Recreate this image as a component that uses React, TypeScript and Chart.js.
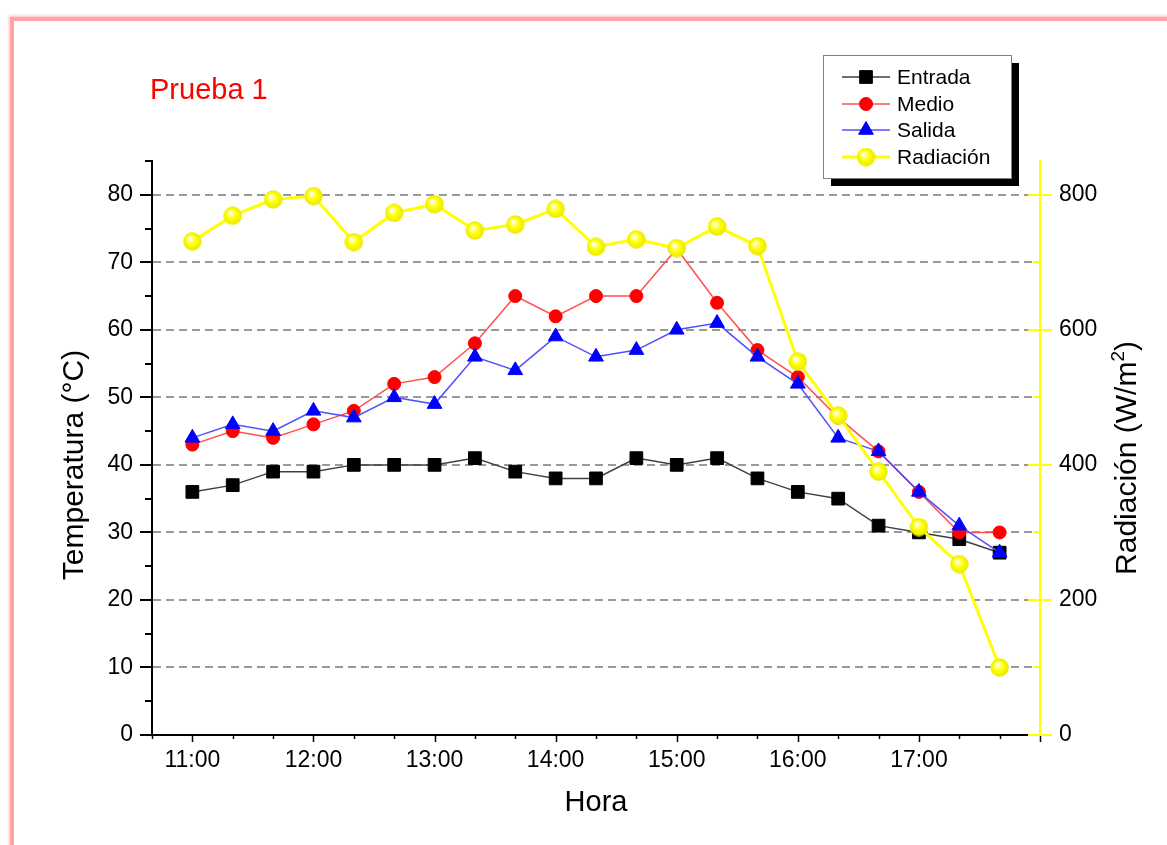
import { useEffect, useRef } from 'react';
import { Chart, registerables } from 'chart.js';

Chart.register(...registerables);

// ---------- data ----------
const horas = ['11:00', '11:20', '11:40', '12:00', '12:20', '12:40', '13:00', '13:20', '13:40', '14:00', '14:20', '14:40', '15:00', '15:20', '15:40', '16:00', '16:20', '16:40', '17:00', '17:20', '17:40'];
const entrada = [36, 37, 39, 39, 40, 40, 40, 41, 39, 38, 38, 41, 40, 41, 38, 36, 35, 31, 30, 29, 27];
const medio = [43, 45, 44, 46, 48, 52, 53, 58, 65, 62, 65, 65, 72, 64, 57, 53, 47, 42, 36, 30, 30];
const salida = [44, 46, 45, 48, 47, 50, 49, 56, 54, 59, 56, 57, 60, 61, 56, 52, 44, 42, 36, 31, 27];
const radiacion = [731, 769, 793, 798, 730, 773, 786, 747, 756, 779, 723, 734, 721, 753, 724, 553, 473, 390, 308, 253, 100];

const horaEtiquetas = ['11:00', '12:00', '13:00', '14:00', '15:00', '16:00', '17:00'];
const tempTicks = [0, 10, 20, 30, 40, 50, 60, 70, 80];
const radTicks = [0, 200, 400, 600, 800];

const X_MIN = '10:40';
const X_MAX = '18:00';
const TEMP_MAX = 85;
const RAD_MAX = 850;

const FONT = '"Liberation Sans", Arial, Helvetica, sans-serif';

const toMin = (s: string) => {
  const [h, m] = s.split(':').map(Number);
  return h * 60 + m;
};
const fmtMin = (v: number) => {
  const h = Math.floor(v / 60);
  const m = v % 60;
  return `${h}:${m < 10 ? '0' + m : m}`;
};

function seg(ctx: CanvasRenderingContext2D, x1: number, y1: number, x2: number, y2: number) {
  ctx.beginPath();
  ctx.moveTo(x1, y1);
  ctx.lineTo(x2, y2);
  ctx.stroke();
}

function drawMarker(ctx: CanvasRenderingContext2D, ds: any, x: number, y: number) {
  const style = ds.pointStyle;
  ctx.save();
  if (typeof style === 'object') {
    ctx.drawImage(style, x - style.width / 2, y - style.height / 2);
    ctx.restore();
    return;
  }
  ctx.fillStyle = ds.pointBackgroundColor;
  ctx.strokeStyle = ds.pointBorderColor;
  ctx.lineWidth = ds.pointBorderWidth;
  const r = ds.pointRadius;
  ctx.beginPath();
  if (style === 'rect') {
    const s = Math.SQRT1_2 * r;
    ctx.rect(x - s, y - s, 2 * s, 2 * s);
  } else if (style === 'triangle') {
    let a = 0;
    ctx.moveTo(x + Math.sin(a) * r, y - Math.cos(a) * r);
    a += (2 * Math.PI) / 3;
    ctx.lineTo(x + Math.sin(a) * r, y - Math.cos(a) * r);
    a += (2 * Math.PI) / 3;
    ctx.lineTo(x + Math.sin(a) * r, y - Math.cos(a) * r);
    ctx.closePath();
  } else {
    ctx.arc(x, y, r, 0, Math.PI * 2);
  }
  ctx.fill();
  ctx.stroke();
  ctx.restore();
}

const decorPlugin = {
  id: 'decor',
  afterDraw(chart: any) {
    const ctx: CanvasRenderingContext2D = chart.ctx;
    const xs = chart.scales.x;
    const ys = chart.scales.y;
    const rs = chart.scales.y1;
    const left = chart.chartArea.left;
    const right = chart.chartArea.right;
    const bottom = chart.chartArea.bottom;
    ctx.save();

    // left axis tick marks (major every 10, minor every 5)
    ctx.strokeStyle = '#000';
    ctx.lineWidth = 2;
    for (let v = 0; v <= TEMP_MAX; v += 5) {
      const p = Math.round(ys.getPixelForValue(v));
      const len = v % 10 === 0 ? 12 : 7;
      seg(ctx, left - len, p, left, p);
    }
    // bottom axis tick marks (major hours, minor each 20 min)
    ctx.lineWidth = 1.5;
    for (let v = toMin(X_MIN); v <= toMin(X_MAX); v += 20) {
      const p = Math.round(xs.getPixelForValue(v)) + 0.5;
      const len = v % 60 === 0 ? 7 : 4;
      seg(ctx, p, bottom, p, bottom + len);
    }
    // right axis tick marks
    ctx.strokeStyle = '#ffff00';
    ctx.lineWidth = 2;
    for (let v = 0; v <= RAD_MAX; v += 100) {
      const p = Math.round(rs.getPixelForValue(v));
      if (v % 200 === 0) seg(ctx, right - 12, p, right + 12, p);
      else seg(ctx, right - 7, p, right, p);
    }

    // axis titles
    ctx.fillStyle = '#000';
    ctx.font = `29px ${FONT}`;
    ctx.textBaseline = 'middle';
    ctx.textAlign = 'center';
    ctx.fillText('Hora', (left + right) / 2, 803);

    ctx.font = `30px ${FONT}`;
    ctx.save();
    ctx.translate(75, 465);
    ctx.rotate(-Math.PI / 2);
    ctx.fillText('Temperatura (°C)', 0, 0);
    ctx.restore();

    ctx.save();
    ctx.translate(1128, 458);
    ctx.rotate(-Math.PI / 2);
    const t1 = 'Radiación (W/m';
    const t2 = '2';
    const t3 = ')';
    ctx.font = `30px ${FONT}`;
    const w1 = ctx.measureText(t1).width;
    const w3 = ctx.measureText(t3).width;
    ctx.font = `19px ${FONT}`;
    const w2 = ctx.measureText(t2).width;
    const start = -(w1 + w2 + w3) / 2;
    ctx.textAlign = 'left';
    ctx.font = `30px ${FONT}`;
    ctx.fillText(t1, start, 0);
    ctx.fillText(t3, start + w1 + w2, 0);
    ctx.font = `19px ${FONT}`;
    ctx.fillText(t2, start + w1, -9);
    ctx.restore();

    // panel label
    ctx.fillStyle = '#ff0000';
    ctx.font = `29px ${FONT}`;
    ctx.textAlign = 'left';
    ctx.textBaseline = 'alphabetic';
    ctx.fillText('Prueba 1', 150, 99);

    // legend
    const bx = 823, by = 55, bw = 188, bh = 123;
    ctx.fillStyle = '#000';
    ctx.fillRect(bx + 8, by + 8, bw, bh);
    ctx.fillStyle = '#fff';
    ctx.fillRect(bx, by, bw, bh);
    ctx.strokeStyle = '#808080';
    ctx.lineWidth = 1;
    ctx.strokeRect(bx + 0.5, by + 0.5, bw, bh);
    const rows = [77, 104, 130, 157];
    chart.data.datasets.forEach((ds: any, i: number) => {
      const yy = rows[i];
      ctx.strokeStyle = ds.borderColor;
      ctx.lineWidth = ds.borderWidth;
      seg(ctx, 842, yy, 890, yy);
      drawMarker(ctx, ds, 866, yy);
      ctx.fillStyle = '#000';
      ctx.font = `21px ${FONT}`;
      ctx.textAlign = 'left';
      ctx.textBaseline = 'middle';
      ctx.fillText(ds.label, 897, yy + 1);
    });

    ctx.restore();
  },
};

export default function App() {
  const ref = useRef<HTMLCanvasElement>(null);

  useEffect(() => {
    const sphere = document.createElement('canvas');
    sphere.width = 19;
    sphere.height = 19;
    const sc = sphere.getContext('2d')!;
    const g = sc.createRadialGradient(7, 6.5, 0.5, 9.5, 9.5, 9.5);
    g.addColorStop(0, '#ffffff');
    g.addColorStop(0.22, '#ffff90');
    g.addColorStop(0.5, '#ffff00');
    g.addColorStop(1, '#e8e800');
    sc.fillStyle = g;
    sc.beginPath();
    sc.arc(9.5, 9.5, 9.2, 0, Math.PI * 2);
    sc.fill();

    const pts = (arr: number[]) => arr.map((v, i) => ({ x: toMin(horas[i]), y: v }));

    const chart = new Chart(ref.current!, {
      type: 'line',
      data: {
        datasets: [
          {
            label: 'Entrada',
            data: pts(entrada),
            borderColor: '#404040',
            borderWidth: 1.5,
            pointStyle: 'rect',
            pointRadius: 9,
            pointBackgroundColor: '#000000',
            pointBorderColor: '#000000',
            pointBorderWidth: 1,
            yAxisID: 'y',
            order: 4,
          },
          {
            label: 'Medio',
            data: pts(medio),
            borderColor: '#ff5050',
            borderWidth: 1.5,
            pointStyle: 'circle',
            pointRadius: 6.5,
            pointBackgroundColor: '#ff0000',
            pointBorderColor: '#ff0000',
            pointBorderWidth: 1,
            yAxisID: 'y',
            order: 3,
          },
          {
            label: 'Salida',
            data: pts(salida),
            borderColor: '#5050ff',
            borderWidth: 1.5,
            pointStyle: 'triangle',
            pointRadius: 8.5,
            pointBackgroundColor: '#0000ff',
            pointBorderColor: '#0000ff',
            pointBorderWidth: 1,
            yAxisID: 'y',
            order: 2,
          },
          {
            label: 'Radiación',
            data: pts(radiacion),
            borderColor: '#ffff00',
            borderWidth: 3,
            pointStyle: sphere as any,
            pointRadius: 9,
            yAxisID: 'y1',
            order: 1,
          },
        ] as any,
      },
      options: {
        animation: false,
        responsive: false,
        devicePixelRatio: 1,
        events: [],
        layout: { padding: { top: 161, left: 0, right: 0, bottom: 0 } },
        plugins: { legend: { display: false }, tooltip: { enabled: false } },
        scales: {
          x: {
            type: 'linear',
            min: toMin(X_MIN),
            max: toMin(X_MAX),
            afterBuildTicks: (s: any) => {
              s.ticks = horaEtiquetas.map((h) => ({ value: toMin(h) }));
            },
            afterFit: (s: any) => {
              s.height = 110;
            },
            ticks: {
              callback: (v: any) => fmtMin(Number(v)),
              font: { family: FONT, size: 23 },
              color: '#000',
              padding: 12,
              maxRotation: 0,
              autoSkip: false,
            },
            grid: { display: false, drawTicks: false },
            border: { display: true, color: '#000', width: 2 },
          },
          y: {
            type: 'linear',
            position: 'left',
            min: 0,
            max: TEMP_MAX,
            afterBuildTicks: (s: any) => {
              s.ticks = tempTicks.map((v) => ({ value: v }));
            },
            afterFit: (s: any) => {
              s.width = 152;
            },
            ticks: {
              font: { family: FONT, size: 23 },
              color: '#000',
              padding: 19,
            },
            grid: {
              drawTicks: false,
              color: (c: any) => (c.tick && c.tick.value === 0 ? 'rgba(0,0,0,0)' : '#9a9a9a'),
              lineWidth: 2,
            },
            border: { display: true, color: '#000', width: 2, dash: [8, 5] },
          },
          y1: {
            type: 'linear',
            position: 'right',
            min: 0,
            max: RAD_MAX,
            afterBuildTicks: (s: any) => {
              s.ticks = radTicks.map((v) => ({ value: v }));
            },
            afterFit: (s: any) => {
              s.width = 127;
            },
            ticks: {
              font: { family: FONT, size: 23 },
              color: '#000',
              padding: 19,
            },
            grid: { display: false, drawTicks: false },
            border: { display: true, color: '#ffff00', width: 2 },
          },
        },
      } as any,
      plugins: [decorPlugin],
    });
    return () => chart.destroy();
  }, []);

  return (
    <div
      style={{
        position: 'fixed',
        left: 0,
        top: 0,
        width: 1167,
        height: 845,
        overflow: 'hidden',
        background: '#ffffff',
      }}
    >
      <div
        style={{
          position: 'absolute',
          left: 10,
          top: 17,
          width: 1300,
          height: 1000,
          borderTop: '4px solid #ffa4a4',
          borderLeft: '4px solid #ffa4a4',
          boxShadow: '0 0 3px 1px rgba(255,170,170,0.8)',
        }}
      />
      <canvas ref={ref} width={1167} height={845} style={{ position: 'absolute', left: 0, top: 0 }} />
    </div>
  );
}
